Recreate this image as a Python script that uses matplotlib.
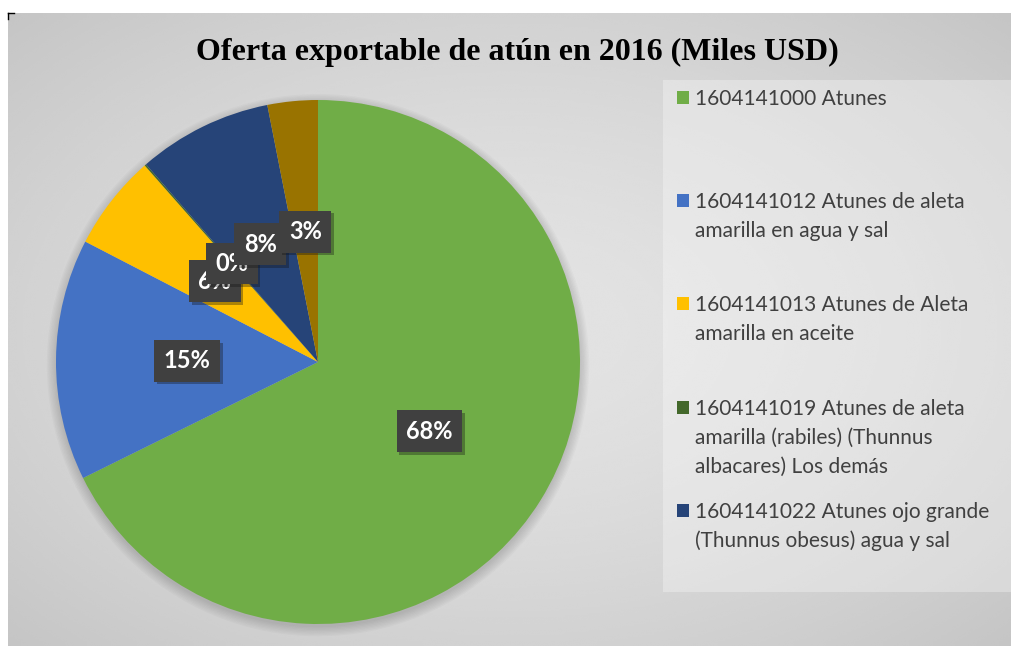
import numpy as np
import matplotlib
matplotlib.use('Agg')
import matplotlib.pyplot as plt
import matplotlib.patheffects as pe
from matplotlib.patches import Rectangle, Circle
from matplotlib.lines import Line2D

# datos (porcentaje aproximado de cada partida)
partidas = [
    '1604141000 Atunes',
    '1604141012 Atunes de aleta\namarilla en agua y sal',
    '1604141013 Atunes de Aleta\namarilla en aceite',
    '1604141019 Atunes de aleta\namarilla (rabiles) (Thunnus\nalbacares) Los demás',
    '1604141022 Atunes ojo grande\n(Thunnus obesus) agua y sal',
    '1604141029 Los demás',
]
valores = [67.7, 14.9, 5.9, 0.1, 8.3, 3.1]
colores = ['#70AD47', '#4472C4', '#FFC000', '#43682B', '#264478', '#997300']

W, H = 1012, 646
fig = plt.figure(figsize=(W / 100, H / 100), dpi=100)
fig.patch.set_facecolor('white')

# fondo con degradado radial
bg = fig.add_axes([8 / W, 0, 1 - 8 / W, 1 - 13 / H])
yy, xx = np.mgrid[0:1:300j, 0:1:500j]
r = np.sqrt(((xx - 0.5) / 0.75) ** 2 + ((yy - 0.5) / 0.75) ** 2)
bg.imshow(0.89 - 0.13 * r ** 1.6, cmap='gray', vmin=0, vmax=1,
          aspect='auto', extent=[0, 1, 0, 1], interpolation='bicubic')
bg.set_axis_off()

fig.add_artist(Line2D([8 / W, 8 / W], [1 - 13 / H, 1 - 19 / H], color='black', lw=1))
fig.add_artist(Line2D([8 / W, 14 / W], [1 - 13 / H, 1 - 13 / H], color='black', lw=1))

# caja de leyenda
fig.add_artist(Rectangle((663 / W, 1 - 592 / H), (W - 663) / W, (592 - 80) / H,
                         transform=fig.transFigure, facecolor='white', alpha=0.3,
                         edgecolor='none'))

fig.text(517 / W, 1 - 60 / H, 'Oferta exportable de atún en 2016 (Miles USD)',
         ha='center', va='baseline', fontsize=23, fontweight='bold',
         family='Liberation Serif', color='black')

cx, cy, rad = 318, 362, 262
ax = fig.add_axes([(cx - rad) / W, (H - cy - rad) / H, 2 * rad / W, 2 * rad / H])
ax.set_axis_off()

# sombra del pastel
for i in range(8):
    ax.add_patch(Circle((0.0, -0.012), 1 + 0.005 * i, facecolor='black',
                        alpha=0.02, edgecolor='none', zorder=0, clip_on=False))

wedges, texts, autotexts = ax.pie(
    valores, colors=colores, startangle=90, counterclock=False, radius=1,
    autopct='%1.0f%%', pctdistance=0.5,
    wedgeprops=dict(linewidth=0),
    textprops=dict(color='white', fontsize=17, fontweight='bold', family='Lato'))
ax.set_xlim(-1, 1)
ax.set_ylim(-1, 1)
for t in autotexts:
    t.set_bbox(dict(boxstyle='square,pad=0.4', facecolor='#404040', edgecolor='none'))
    t.get_bbox_patch().set_path_effects(
        [pe.SimplePatchShadow(offset=(2, -2), alpha=0.35), pe.Normal()])

# leyenda manual (solo se ven 5 entradas)
ys = [98, 201, 304, 408, 511]
for nombre, col, y in zip(partidas[:5], colores[:5], ys):
    fig.add_artist(Rectangle((677 / W, 1 - (y + 6) / H), 12 / W, 13 / H,
                             transform=fig.transFigure, facecolor=col, edgecolor='none'))
    for k, linea in enumerate(nombre.split('\n')):
        fig.text(695 / W, 1 - (y + 7 + 29 * k) / H, linea, ha='left', va='baseline',
                 fontsize=15, family='Lato', color='#404040')

fig.savefig('out.png', dpi=100)
